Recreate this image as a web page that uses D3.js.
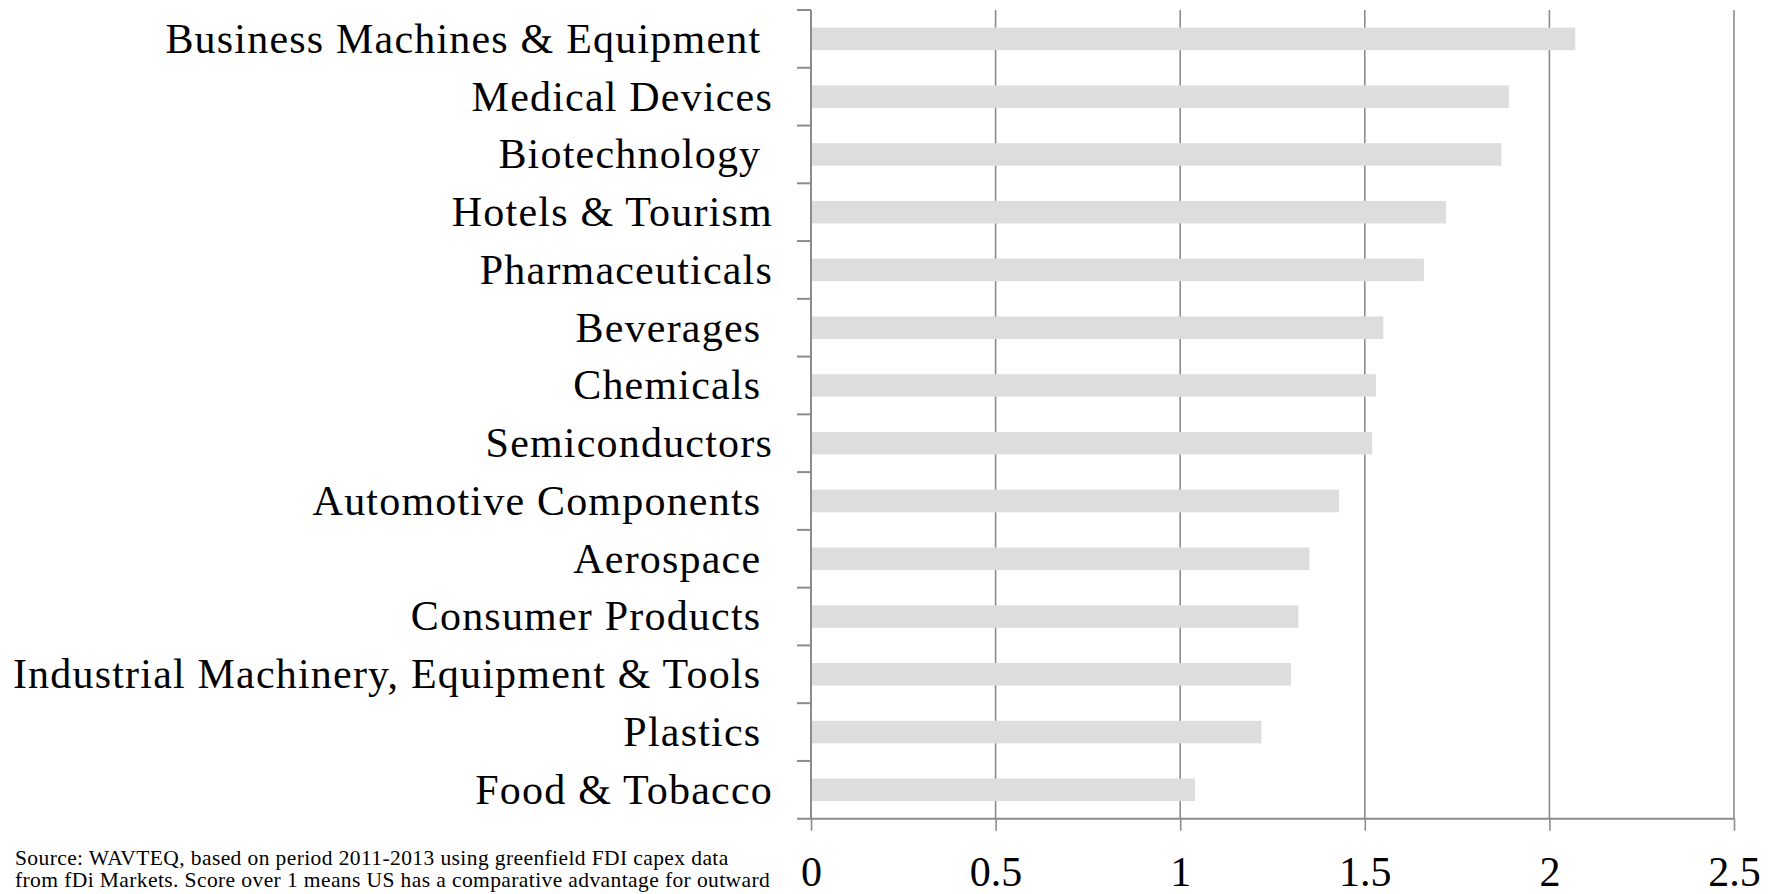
<!DOCTYPE html>
<html>
<head>
<meta charset="utf-8">
<script src="https://cdn.jsdelivr.net/npm/d3@7"></script>
<style>
  body { margin: 0; background: #fff; }
  text { font-family: "Liberation Serif", "Times New Roman", serif; fill: #000; }
  .label { white-space: pre; }
</style>
</head>
<body>
<div id="chart"></div>
<script>
var width = 1777;
var height = 894;

// category labels, top to bottom (trailing spaces are in the original)
var sectors = [
  "Business Machines & Equipment ",
  "Medical Devices",
  "Biotechnology ",
  "Hotels & Tourism",
  "Pharmaceuticals",
  "Beverages ",
  "Chemicals ",
  "Semiconductors",
  "Automotive Components ",
  "Aerospace ",
  "Consumer Products ",
  "Industrial Machinery, Equipment & Tools ",
  "Plastics ",
  "Food & Tobacco"
];
var scores = [2.07, 1.89, 1.87, 1.72, 1.66, 1.55, 1.53, 1.52, 1.43, 1.35, 1.32, 1.30, 1.22, 1.04];
var xTicks = [0, 0.5, 1, 1.5, 2, 2.5];
var sourceLines = [
  "Source: WAVTEQ, based on period 2011-2013 using greenfield FDI capex data",
  "from fDi Markets. Score over 1 means US has a comparative advantage for outward"
];

window.onload = start;

function start() {
  var data = sectors.map(function(s, i) { return { name: s, value: scores[i] }; });

  var top = 10, bottom = 818.7, left = 811, right = 1734;

  var xScale = d3.scaleLinear().domain([0, 2.5]).range([left, right]);
  var yScale = d3.scaleBand()
    .domain(sectors)
    .range([top, bottom])
    .paddingInner(0.61)
    .paddingOuter(0.305);

  var chart = d3.select("#chart")
    .append("svg")
    .attr("width", width)
    .attr("height", height);

  // vertical gridlines
  chart.append("g")
    .selectAll("line")
    .data(xTicks.slice(1))
    .enter()
    .append("line")
    .attr("x1", function(d) { return xScale(d); })
    .attr("x2", function(d) { return xScale(d); })
    .attr("y1", top)
    .attr("y2", bottom)
    .attr("stroke", "#8c8c8c")
    .attr("stroke-width", 1.6);

  // bars
  chart.append("g")
    .selectAll("rect")
    .data(data)
    .enter()
    .append("rect")
    .attr("x", xScale(0))
    .attr("y", function(d) { return yScale(d.name); })
    .attr("width", function(d) { return xScale(d.value) - xScale(0); })
    .attr("height", yScale.bandwidth())
    .attr("fill", "#dddddd");

  // x axis
  var xAxis = d3.axisBottom(xScale)
    .tickValues(xTicks)
    .tickSize(12)
    .tickSizeOuter(0)
    .tickFormat(function(d) { return String(d); });

  var gx = chart.append("g")
    .attr("transform", "translate(0," + bottom + ")")
    .call(xAxis);
  gx.select(".domain").attr("stroke", "#8c8c8c").attr("stroke-width", 2)
    .attr("d", "M" + (left - 14) + ",0H" + right);
  gx.selectAll(".tick line").attr("stroke", "#8c8c8c").attr("stroke-width", 1.6);
  gx.selectAll(".tick text")
    .attr("y", 67)
    .attr("dy", 0)
    .style("font-size", "42px")
    .style("font-family", "'Liberation Serif', serif")
    .attr("fill", "#000");

  // y axis line with ticks at band boundaries
  var step = yScale.step();
  var bounds = d3.range(sectors.length + 1).map(function(i) { return top + i * step; });
  chart.append("line")
    .attr("x1", left).attr("x2", left)
    .attr("y1", top).attr("y2", bottom)
    .attr("stroke", "#8c8c8c")
    .attr("stroke-width", 2);
  chart.append("g")
    .selectAll("line")
    .data(bounds.slice(0, -1))
    .enter()
    .append("line")
    .attr("x1", left - 14).attr("x2", left)
    .attr("y1", function(d) { return d; })
    .attr("y2", function(d) { return d; })
    .attr("stroke", "#8c8c8c")
    .attr("stroke-width", 2);

  // category labels
  chart.append("g")
    .selectAll("text")
    .data(data)
    .enter()
    .append("text")
    .attr("class", "label")
    .attr("x", left - 38)
    .attr("y", function(d) { return yScale(d.name) + yScale.bandwidth() / 2; })
    .attr("dy", "0.33em")
    .style("text-anchor", "end")
    .style("font-size", "42px")
    .style("letter-spacing", "1.2px")
    .text(function(d) { return d.name; });

  // source note
  chart.append("g")
    .selectAll("text")
    .data(sourceLines)
    .enter()
    .append("text")
    .attr("x", 15)
    .attr("y", function(d, i) { return 864.5 + i * 22.5; })
    .style("font-size", "21.5px")
    .style("letter-spacing", "0.4px")
    .text(function(d) { return d; });
}
</script>
</body>
</html>
